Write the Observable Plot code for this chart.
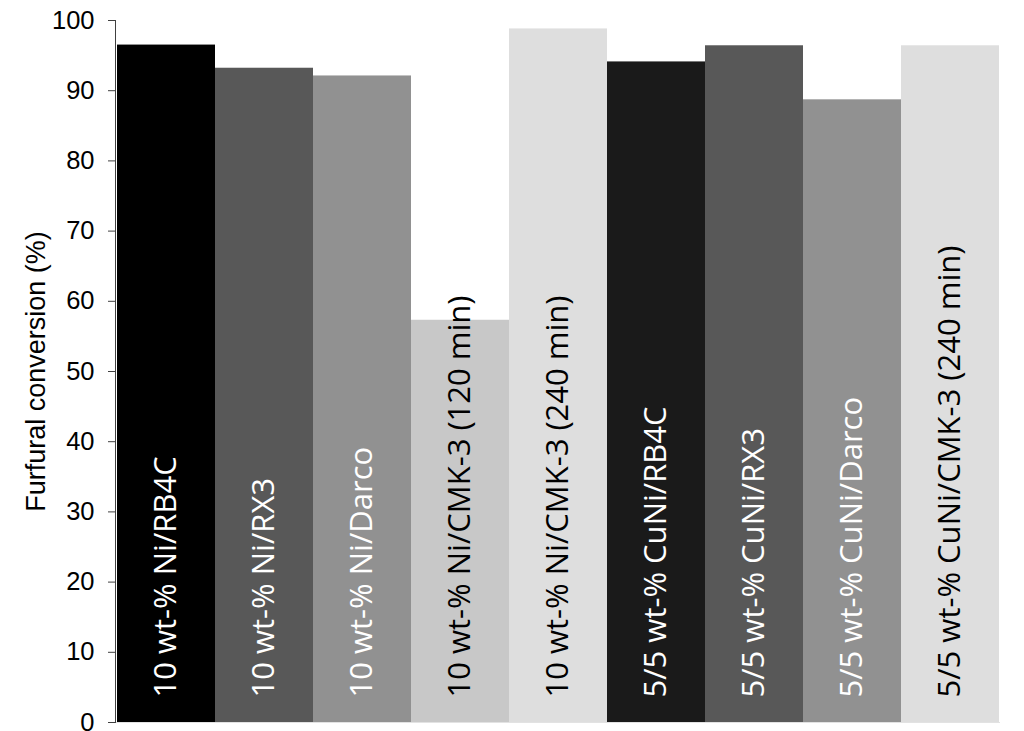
<!DOCTYPE html>
<html>
<head>
<meta charset="utf-8">
<script src="https://cdn.jsdelivr.net/npm/d3@7"></script>
<script src="https://cdn.jsdelivr.net/npm/@observablehq/plot@0.6"></script>
<style>
  html, body { margin: 0; padding: 0; background: #fff; }
  #chart svg { display: block; overflow: visible; }
</style>
</head>
<body>
<div id="chart"></div>
<script>
const categories = [
  "10 wt-% Ni/RB4C",
  "10 wt-% Ni/RX3",
  "10 wt-% Ni/Darco",
  "10 wt-% Ni/CMK-3 (120 min)",
  "10 wt-% Ni/CMK-3 (240 min)",
  "5/5 wt-% CuNi/RB4C",
  "5/5 wt-% CuNi/RX3",
  "5/5 wt-% CuNi/Darco",
  "5/5 wt-% CuNi/CMK-3 (240 min)"
];
const conversion = [96.5, 93.2, 92.1, 57.3, 98.8, 94.1, 96.4, 88.7, 96.4];
const barColors = ["#000000", "#585858", "#919191", "#c8c8c8", "#dedede", "#1a1a1a", "#585858", "#919191", "#dedede"];
const labelColors = ["#ffffff", "#ffffff", "#ffffff", "#000000", "#000000", "#ffffff", "#ffffff", "#ffffff", "#000000"];
const yTicks = [0, 10, 20, 30, 40, 50, 60, 70, 80, 90, 100];
const yLabel = "Furfural conversion (%)";

const data = categories.map((name, i) => ({
  name, value: conversion[i], fill: barColors[i], labelColor: labelColors[i]
}));

const chart = Plot.plot({
  width: 1024,
  height: 731,
  marginLeft: 115,
  marginRight: 24,
  marginTop: 20,
  marginBottom: 9,
  style: { background: "#fff", fontFamily: "Liberation Sans" },
  x: { domain: categories, padding: 0, axis: null },
  y: { domain: [0, 100], axis: null },
  color: { type: "identity" },
  marks: [
    Plot.barY(data, { x: "name", y: "value", fill: "fill" }),
    Plot.ruleY([0], { stroke: "#e2e2e2" }),
    Plot.text(data, {
      x: "name", y: 0, text: "name", rotate: -90, textAnchor: "start",
      dy: -25, fill: "labelColor", fontSize: 31, fontFamily: "Open Sans"
    }),
    Plot.frame({ anchor: "left", stroke: "#404040" }),
    Plot.axisY({
      ticks: yTicks, tickSize: 7, stroke: "#404040",
      tickFormat: () => "", label: null
    }),
    Plot.text(yTicks, {
      y: d => d, frameAnchor: "left", dx: -21, textAnchor: "end",
      text: d => String(d), fontSize: 25.5, fontFamily: "Liberation Sans", fill: "#000"
    }),
    Plot.text([yLabel], {
      frameAnchor: "left", dx: -79, rotate: -90, textAnchor: "middle", text: d => d,
      fontSize: 27, fontFamily: "Liberation Sans", fill: "#000"
    })
  ]
});
document.getElementById("chart").appendChild(chart);
</script>
</body>
</html>
